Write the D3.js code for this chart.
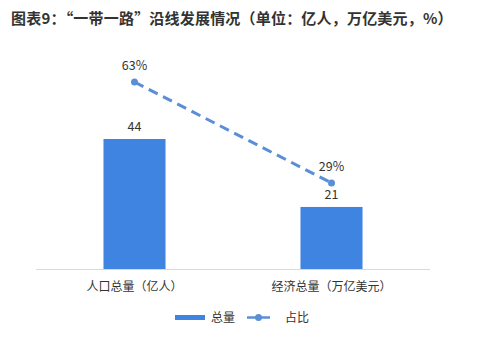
<!DOCTYPE html>
<html>
<head>
<meta charset="utf-8">
<script src="https://cdn.jsdelivr.net/npm/d3@7"></script>
<style>
  body { margin: 0; background: #fff; }
  text { font-family: "Noto Sans CJK SC", "Microsoft YaHei", sans-serif; }
</style>
</head>
<body>
<svg id="chart" width="477" height="337"></svg>
<script>
const categories = ['人口总量（亿人）', '经济总量（万亿美元）'];
const totals = [44, 21];
const shares = [63, 29];
const titleText = '图表9：“一带一路”沿线发展情况（单位：亿人，万亿美元，%）';

const svg = d3.select('#chart');
const left = 36, right = 430, base = 269;

svg.append('text')
  .attr('x', 11).attr('y', 24)
  .attr('font-size', 15).attr('font-weight', 'bold')
  .attr('letter-spacing', 0.2)
  .attr('fill', '#333')
  .text(titleText);

const x = d3.scaleBand().domain(categories).range([left, right]).padding(0);
const barW = x.bandwidth() * 0.315;

// left axis: bar totals, right axis: share %
const y = d3.scaleLinear().domain([0, 44]).range([base, 139]);
const y2 = d3.scaleLinear().domain([0, 63]).range([base, 82]);

// baseline
svg.append('line')
  .attr('x1', left).attr('x2', right)
  .attr('y1', base + 0.5).attr('y2', base + 0.5)
  .attr('stroke', '#d9d9d9');

svg.selectAll('.bar')
  .data(totals)
  .enter()
  .append('rect')
  .attr('x', (d, i) => x(categories[i]) + x.bandwidth() / 2 - barW / 2)
  .attr('y', d => y(d))
  .attr('width', barW)
  .attr('height', d => base - y(d))
  .attr('fill', '#3f84e0');

svg.selectAll('.barlabel')
  .data(totals)
  .enter()
  .append('text')
  .attr('x', (d, i) => x(categories[i]) + x.bandwidth() / 2)
  .attr('y', d => y(d) - 8)
  .attr('text-anchor', 'middle')
  .attr('font-size', 12.5).attr('fill', '#333')
  .text(d => d);

const cx = i => x(categories[i]) + x.bandwidth() / 2;
const line = d3.line().x((d, i) => cx(i)).y(d => y2(d));

svg.append('path')
  .attr('d', line(shares))
  .attr('fill', 'none')
  .attr('stroke', '#5a8fd8')
  .attr('stroke-width', 3)
  .attr('stroke-dasharray', '10,6');

svg.selectAll('.dot')
  .data(shares)
  .enter()
  .append('circle')
  .attr('cx', (d, i) => cx(i))
  .attr('cy', d => y2(d))
  .attr('r', 3.5)
  .attr('fill', '#5a8fd8');

svg.selectAll('.linelabel')
  .data(shares)
  .enter()
  .append('text')
  .attr('x', (d, i) => cx(i))
  .attr('y', d => y2(d) - 12)
  .attr('text-anchor', 'middle')
  .attr('font-size', 12.5).attr('fill', '#333')
  .text(d => d + '%');

// category labels
svg.selectAll('.cat')
  .data(categories)
  .enter()
  .append('text')
  .attr('x', d => x(d) + x.bandwidth() / 2)
  .attr('y', 291)
  .attr('text-anchor', 'middle')
  .attr('font-size', 12).attr('fill', '#333')
  .text(d => d);

// legend
const lg = svg.append('g');
lg.append('rect')
  .attr('x', 175).attr('y', 315).attr('width', 30).attr('height', 5)
  .attr('fill', '#3f84e0');
lg.append('text')
  .attr('x', 211).attr('y', 322)
  .attr('font-size', 12).attr('fill', '#333')
  .text('总量');
lg.append('line')
  .attr('x1', 247).attr('x2', 270).attr('y1', 317.5).attr('y2', 317.5)
  .attr('stroke', '#5a8fd8').attr('stroke-width', 2.5);
lg.append('circle')
  .attr('cx', 258.5).attr('cy', 317.5).attr('r', 3.5)
  .attr('fill', '#5a8fd8');
lg.append('text')
  .attr('x', 285).attr('y', 322)
  .attr('font-size', 12).attr('fill', '#333')
  .text('占比');
</script>
</body>
</html>
